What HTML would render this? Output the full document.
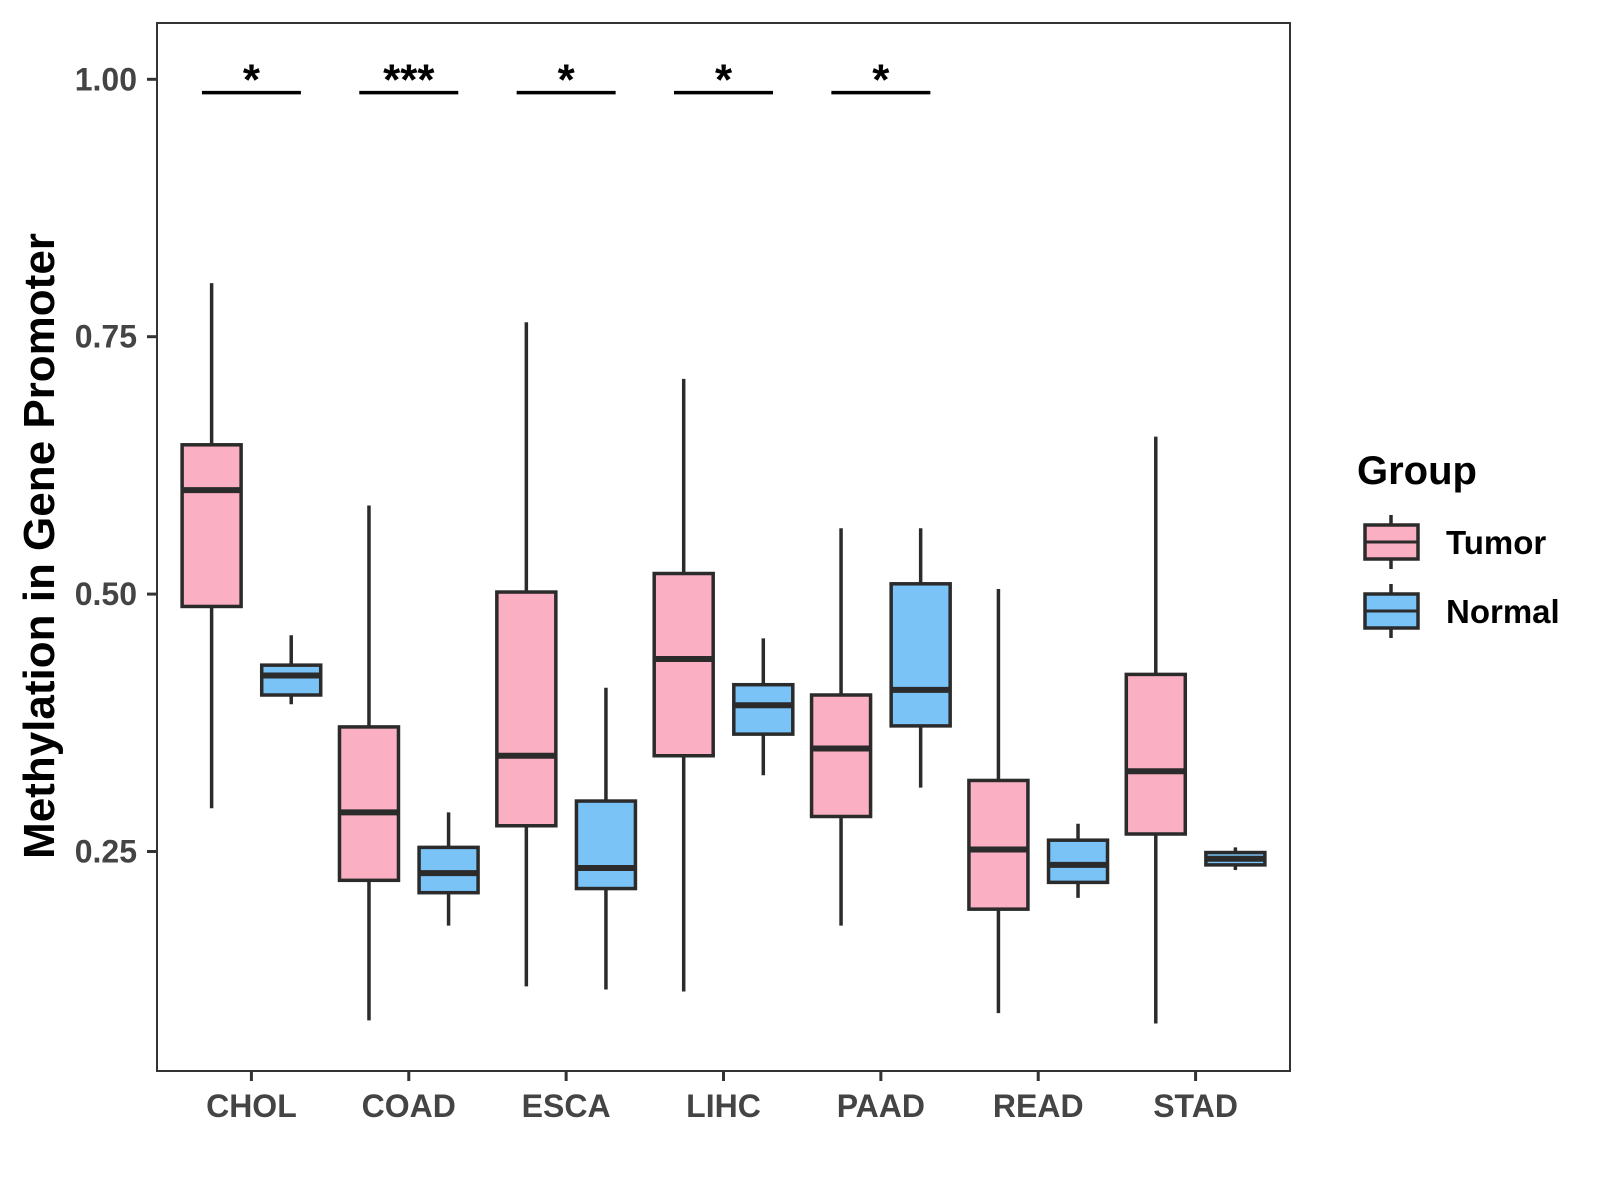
<!DOCTYPE html>
<html><head><meta charset="utf-8"><style>
body{margin:0;background:#fff}
svg{display:block;font-family:"Liberation Sans",Arial,sans-serif;font-weight:bold}
</style></head><body>
<svg id="chart" width="1600" height="1200" viewBox="0 0 1600 1200"></svg>
<script>
const categories=["CHOL","COAD","ESCA","LIHC","PAAD","READ","STAD"];
const tumorMax=[0.802,0.586,0.764,0.709,0.564,0.505,0.653];
const tumorQ3=[0.645,0.371,0.502,0.520,0.402,0.319,0.422];
const tumorMed=[0.601,0.288,0.343,0.437,0.350,0.252,0.328];
const tumorQ1=[0.488,0.222,0.275,0.343,0.284,0.194,0.267];
const tumorMin=[0.292,0.086,0.119,0.114,0.178,0.093,0.083];
const normalMax=[0.460,0.288,0.409,0.457,0.564,0.277,0.254];
const normalQ3=[0.431,0.254,0.299,0.412,0.510,0.261,0.249];
const normalMed=[0.421,0.229,0.234,0.392,0.407,0.237,0.243];
const normalQ1=[0.402,0.210,0.214,0.364,0.372,0.220,0.237];
const normalMin=[0.393,0.178,0.116,0.324,0.312,0.205,0.232];
const sigLabels=["*","***","*","*","*","",""];
const sigLevel=0.987;
const yTicks=[0.25,0.50,0.75,1.00];
const yTickLabels=["0.25","0.50","0.75","1.00"];

const NS="http://www.w3.org/2000/svg";
const svg=document.getElementById('chart');
const L=157,R=1290,T=23,B=1071;
const step=(R-L)/7.2;
function x(i){return L+0.6*step+i*step;}
function y(v){return 79.3+(1-v)*1029.6;}
function el(tag,attrs,parent){const e=document.createElementNS(NS,tag);for(const k in attrs)e.setAttribute(k,attrs[k]);(parent||svg).appendChild(e);return e;}

const panel=el('rect',{x:L,y:T,width:R-L,height:B-T,fill:'#fff',stroke:'#333','stroke-width':2});



yTicks.forEach((v,i)=>{
  const tk=el('line',{x1:L-10,x2:L,y1:y(v),y2:y(v),stroke:'#333','stroke-width':3});
  
  
  const t=el('text',{x:L-20,y:y(v)+11,'text-anchor':'end','font-size':32,fill:'#444'});
  t.textContent=yTickLabels[i];
  
  
});

categories.forEach((c,i)=>{
  const tk=el('line',{x1:x(i),x2:x(i),y1:B,y2:B+10,stroke:'#333','stroke-width':3});
  
  
  const t=el('text',{x:x(i),y:B+46,'text-anchor':'middle','font-size':32,fill:'#444'});
  t.textContent=c;
  
  
});

function box(cx,mx,q3,md,q1,mn,fill,name){
  const g=el('g',{});
  
  
  const w=59;
  el('line',{x1:cx,x2:cx,y1:y(mx),y2:y(mn),stroke:'#2b2b2b','stroke-width':3.5},g);
  el('rect',{x:cx-w/2,y:y(q3),width:w,height:Math.max(y(q1)-y(q3),1),fill:fill,stroke:'#2b2b2b','stroke-width':3.5},g);
  el('line',{x1:cx-w/2,x2:cx+w/2,y1:y(md),y2:y(md),stroke:'#2b2b2b','stroke-width':6},g);
}
categories.forEach((c,i)=>{
  box(x(i)-39.8,tumorMax[i],tumorQ3[i],tumorMed[i],tumorQ1[i],tumorMin[i],'#fbafc2','box-tumor-'+c.toLowerCase());
  box(x(i)+39.8,normalMax[i],normalQ3[i],normalMed[i],normalQ1[i],normalMin[i],'#79c3f7','box-normal-'+c.toLowerCase());
  if(sigLabels[i]){
    const ln=el('line',{x1:x(i)-49.5,x2:x(i)+49.5,y1:y(sigLevel),y2:y(sigLevel),stroke:'#000','stroke-width':3.5});
    
    
    const t=el('text',{x:x(i),y:y(sigLevel)+2,'text-anchor':'middle','font-size':44,fill:'#000'});
    t.textContent=sigLabels[i];
    
    
  }
});

const yt=el('text',{x:0,y:0,transform:'translate(54,546) rotate(-90)','text-anchor':'middle','font-size':44,fill:'#000'});
yt.textContent='Methylation in Gene Promoter';



const lt=el('text',{x:1357,y:484,'font-size':40,fill:'#000'});
lt.textContent='Group';


[['Tumor','#fbafc2',542],['Normal','#79c3f7',611]].forEach(([lab,col,cy])=>{
  const g=el('g',{});
  
  
  el('line',{x1:1391,x2:1391,y1:cy-27,y2:cy+27,stroke:'#2b2b2b','stroke-width':3.5},g);
  el('rect',{x:1365,y:cy-17,width:53,height:34,fill:col,stroke:'#2b2b2b','stroke-width':3.5},g);
  el('line',{x1:1365,x2:1418,y1:cy,y2:cy,stroke:'#2b2b2b','stroke-width':3},g);
  const t=el('text',{x:1446,y:cy+12,'font-size':33,fill:'#000'},g);
  t.textContent=lab;
});
</script>
</body></html>
